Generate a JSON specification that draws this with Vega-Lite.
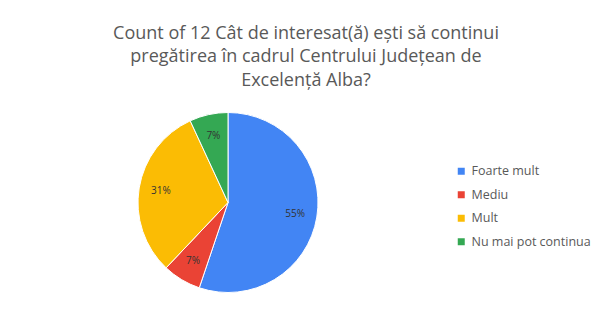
{
  "$schema": "https://vega.github.io/schema/vega-lite/v6.json",
  "width": 446,
  "height": 165,
  "autosize": {"type": "none"},
  "padding": {"left": 5, "top": 120, "right": 154, "bottom": 24},
  "background": "white",
  "title": {
    "text": ["Count of 12 Cât de interesat(ă) ești să continui", "pregătirea în cadrul Centrului Județean de", "Excelență Alba?"],
    "font": "Open Sans",
    "fontSize": 18,
    "fontWeight": "normal",
    "color": "#595959",
    "lineHeight": 23.5,
    "anchor": "middle",
    "dx": 78,
    "offset": 21
  },
  "data": {
    "values": [
      {"raspuns": "Foarte mult", "count": 16, "label": "55%"},
      {"raspuns": "Mediu", "count": 2, "label": "7%"},
      {"raspuns": "Mult", "count": 9, "label": "31%"},
      {"raspuns": "Nu mai pot continua", "count": 2, "label": "7%"}
    ]
  },
  "encoding": {
    "theta": {"field": "count", "type": "quantitative", "stack": true},
    "order": {"field": "raspuns", "type": "nominal", "sort": "ascending"}
  },
  "layer": [
    {
      "mark": {"type": "arc", "outerRadius": 90, "stroke": "white", "strokeWidth": 1},
      "encoding": {
        "color": {
          "field": "raspuns",
          "type": "nominal",
          "scale": {
            "domain": ["Foarte mult", "Mediu", "Mult", "Nu mai pot continua"],
            "range": ["#4285F4", "#EA4335", "#FBBC04", "#34A853"]
          },
          "legend": {
            "title": null,
            "orient": "none",
            "legendX": 450,
            "legendY": 45,
            "symbolType": "square",
            "symbolSize": 49,
            "symbolStrokeWidth": 0,
            "labelFont": "Open Sans",
            "labelFontSize": 12.5,
            "labelColor": "#595959",
            "rowPadding": 10.5,
            "labelOffset": 4
          }
        }
      }
    },
    {
      "mark": {"type": "text", "radius": 68, "font": "Open Sans", "fontSize": 10, "color": "#333333"},
      "encoding": {
        "text": {"field": "label"},
        "detail": {"field": "raspuns", "type": "nominal"}
      }
    }
  ],
  "config": {"view": {"stroke": null}}
}
